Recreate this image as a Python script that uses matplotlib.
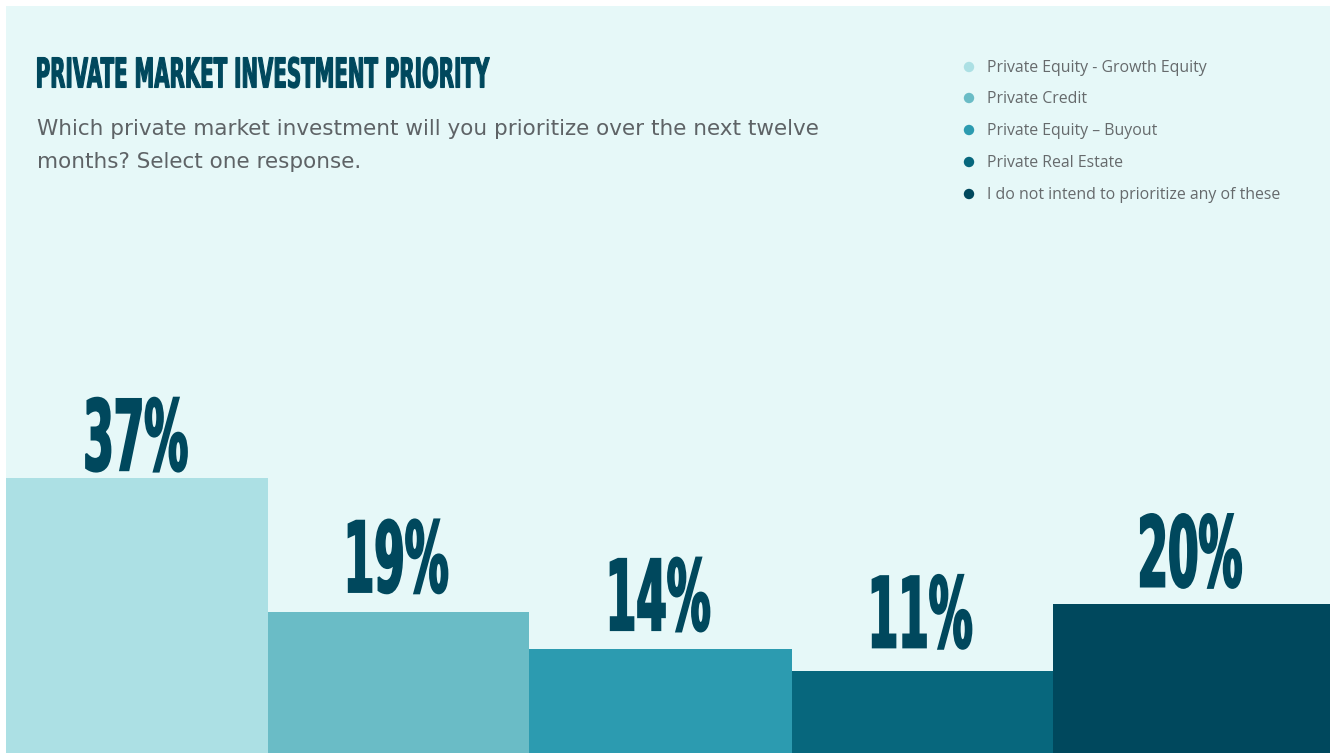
import matplotlib
matplotlib.use("Agg")
import matplotlib.pyplot as plt
from matplotlib.textpath import TextPath
from matplotlib.patches import PathPatch, Rectangle
from matplotlib.font_manager import FontProperties
from matplotlib.transforms import Affine2D, IdentityTransform

# ---- data ----
categories = [
    "Private Equity - Growth Equity",
    "Private Credit",
    "Private Equity \u2013 Buyout",
    "Private Real Estate",
    "I do not intend to prioritize any of these",
]
shares = [37, 19, 14, 11, 20]
value_labels = ["37%", "19%", "14%", "11%", "20%"]
colors = ["#ace0e4", "#6abcc6", "#2c9bb0", "#07677d", "#00485d"]

title = "PRIVATE MARKET INVESTMENT PRIORITY"
subtitle_lines = ["Which private market investment will you prioritize over the next twelve",
                  "months? Select one response."]

W, H, DPI = 1337, 753, 100
BG = "#e6f8f8"
DARK = "#00485d"
GREY = "#5e6366"

fig = plt.figure(figsize=(W / DPI, H / DPI), dpi=DPI, facecolor="white")

# light panel behind everything
fig.patches.append(Rectangle((6 / W, 0), 1324 / W, 747 / H, transform=fig.transFigure,
                             facecolor=BG, edgecolor="none", zorder=-10))

# bar area: zero at bottom edge, 7.43 px per percentage point
px_per_pct = 7.43
ax = fig.add_axes([6 / W, 0, 1324 / W, 747 / H])
ax.set_zorder(1)
ax.set_facecolor("none")
ax.set_xlim(6, 1330)
ax.set_ylim(0, 747 / px_per_pct)
ax.axis("off")

edges = [6, 268, 529, 792, 1053, 1330]
lefts = edges[:-1]
widths = [b - a for a, b in zip(edges[:-1], edges[1:])]
ax.bar(lefts, shares, width=widths, align="edge", color=colors, linewidth=0)

fig.canvas.draw()

heavy = FontProperties(family="DejaVu Sans", weight="bold")


def condensed_text(s, x_px, y_px, cap_px, squeeze, ha="center", color=DARK,
                   width_px=None, stroke=0.0):
    """Draw heavy condensed text as a path, in pixel coordinates (origin bottom-left)."""
    tp = TextPath((0, 0), s, size=100, prop=heavy)
    ref = TextPath((0, 0), "H", size=100, prop=heavy).get_extents()
    ext = tp.get_extents()
    sy = cap_px / ref.height
    sx = sy * squeeze if width_px is None else width_px / ext.width
    w = ext.width * sx
    x0 = x_px - w / 2 if ha == "center" else x_px
    tr = Affine2D().translate(-ext.x0, 0).scale(sx, sy).translate(x0, y_px)
    fig.patches.append(PathPatch(tr.transform_path(tp), transform=IdentityTransform(),
                                 facecolor=color, edgecolor=color if stroke else "none",
                                 linewidth=stroke, joinstyle="miter", zorder=5))


# value labels above each bar (gap in px between bar top and label baseline)
label_gaps = [7, 19, 18, 23, 17]
for left, wd, v, lab, gap in zip(lefts, widths, shares, value_labels, label_gaps):
    xc, ytop = ax.transData.transform((left + wd / 2, v))
    condensed_text(lab, xc - 0.5, ytop + gap + 1, 71, 0.45, stroke=1.6)

# title
condensed_text(title, 37.5, H - 87.5, 30, 0.5, ha="left", width_px=452, stroke=0.8)

# subtitle, two lines on fixed baselines
for line, base in zip(subtitle_lines, [135, 168]):
    fig.text(37 / W, 1 - base / H, line, ha="left", va="baseline", fontsize=15.5,
             family="DejaVu Sans", color=GREY)

# legend
leg_y = [67, 98, 130, 162, 194]
for c, name, y in zip(colors, categories, leg_y):
    fig.patches.append(plt.Circle((969, H - y), 5.2, transform=IdentityTransform(),
                                  facecolor=c, edgecolor="none", zorder=5))
    fig.text(987 / W, 1 - (y + 1) / H, name, ha="left", va="center", fontsize=11.4,
             family="Open Sans", color="#666a6c")

fig.savefig("out.png", dpi=DPI, facecolor="white")
